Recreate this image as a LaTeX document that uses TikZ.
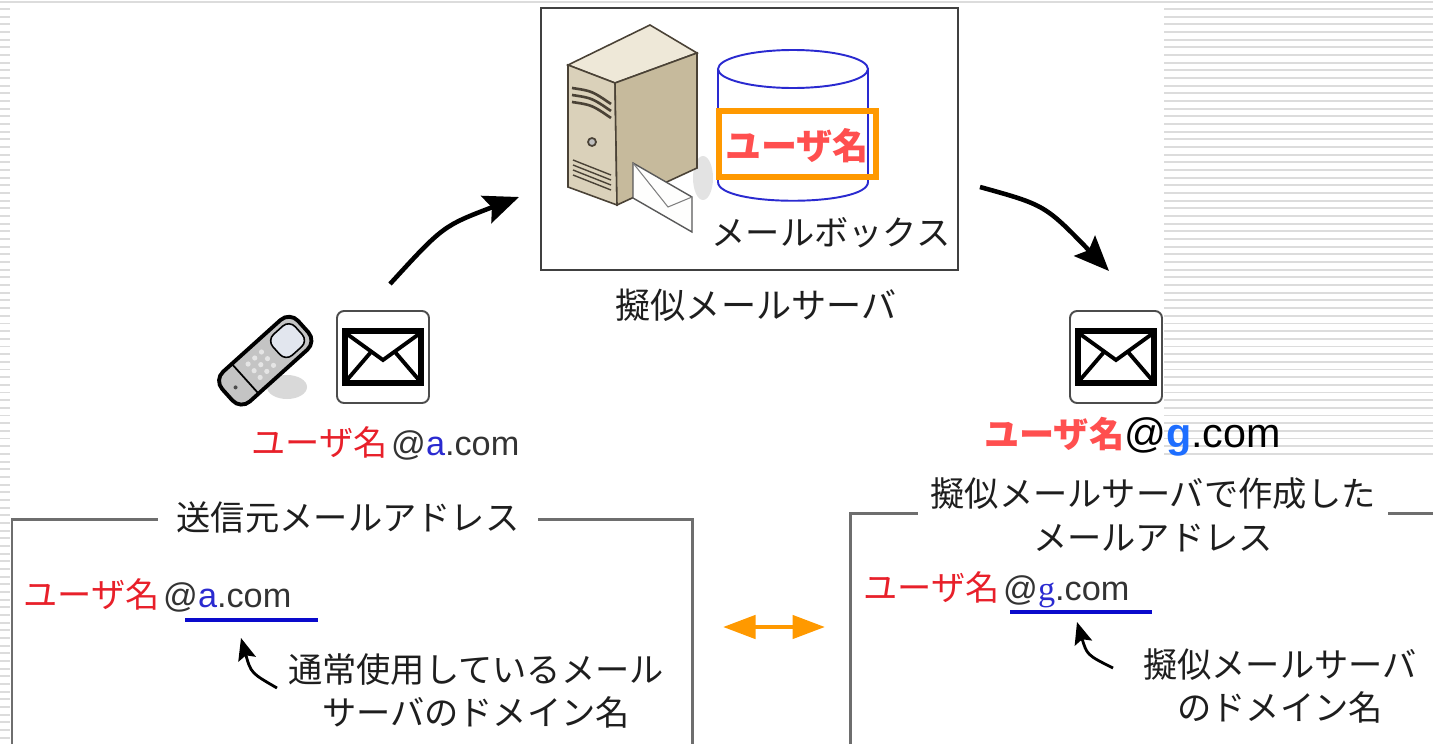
\documentclass[tikz,border=0pt]{standalone}
\usepackage{fontspec}
\setmainfont{Noto Sans CJK JP}
\newfontfamily\latin{Liberation Sans}
\newfontfamily\latinserif{Liberation Serif}
\usetikzlibrary{arrows.meta}

\definecolor{jred}{HTML}{E8202A}
\definecolor{lred}{HTML}{FF4F4F}
\definecolor{dblue}{HTML}{2A2AD0}
\definecolor{gblue}{HTML}{1E6EFF}
\definecolor{ulblue}{HTML}{0A0ACC}
\definecolor{tagorange}{HTML}{FF9900}
\definecolor{boxgray}{HTML}{6E6E6E}
\definecolor{txtblack}{HTML}{1E1E1E}
\definecolor{stripegray}{HTML}{DCDCDC}
\definecolor{srvtop}{HTML}{EEE8D8}
\definecolor{srvfront}{HTML}{DAD1BA}
\definecolor{srvside}{HTML}{C6BA9C}
\definecolor{srvdark}{HTML}{4A4236}
\definecolor{phonegray}{HTML}{C4C4C4}
\definecolor{phonelight}{HTML}{E2E6EE}

\tikzset{
  jtext/.style={font=\fontsize{19.5}{25}\selectfont, text=txtblack, inner sep=0pt, align=center},
  frame/.style={draw=boxgray, line width=1.7pt},
  stripe/.style={draw=stripegray, line width=1.1pt},
  bigarrow/.style={line width=2.6pt, -{Stealth[length=7mm,width=5.8mm,inset=1.2mm]}},
  smallarrow/.style={line width=1.6pt, -{Stealth[length=4.4mm,width=3.6mm,inset=0.8mm]}},
  underl/.style={draw=ulblue, line width=2.2pt},
  drum/.style={draw=dblue, line width=1.1pt},
  % envelope icon, centred on its position
  mailicon/.pic={
    \draw[draw=gray!60!black, line width=1.1pt, fill=white, rounded corners=4pt] (-46,-46) rectangle (46,46);
    \draw[line width=3.2pt, fill=white] (-38,-26) rectangle (38,26);
    \draw[line width=2.2pt] (-36,-23) -- (0,3) -- (36,-23);
    \draw[line width=2.2pt] (-36,23) -- (-12,-5) (36,23) -- (12,-5);
  }
}

\begin{document}
\begin{tikzpicture}[x=0.02cm, y=-0.02cm]
\useasboundingbox (0,0) rectangle (1433,744);

% striped background behind the drawing
\draw[stripe] (0,2) -- (1433,2);
\foreach \i in {0,...,95}
  \draw[stripe] (0,{9+7.67*\i}) -- (10,{9+7.67*\i});
\foreach \i in {0,...,58}
  \draw[stripe] (1164,{9+7.67*\i}) -- (1433,{9+7.67*\i});

%% server box
\draw[draw=black!75, line width=1.2pt] (541,8) rectangle (958,270);

% tower
\fill[gray!22] (703,178) ellipse (10 and 22);
\draw[srvdark, line width=0.9pt, fill=srvtop] (568,65) -- (650,25) -- (697,53) -- (615,83) -- cycle;
\draw[srvdark, line width=0.9pt, fill=srvfront] (568,65) -- (615,83) -- (617,205) -- (568,187) -- cycle;
\draw[srvdark, line width=0.9pt, fill=srvside] (615,83) -- (697,53) -- (697,168) -- (617,205) -- cycle;
\foreach \d in {0,7,14}
  \draw[srvdark, line width=1.5pt] (572,{88+\d}) .. controls (592,{91+\d}) .. (611,{104+\d});
\draw[srvdark, line width=1pt, fill=gray!50] (592,142) circle (4);
\foreach \d in {0,5,10,15}
  \draw[srvdark, line width=0.8pt] (573,{160+\d}) -- (611,{175+\d});
\draw[draw=gray!70!black, line width=0.8pt, fill=white!95!srvtop] (633,163) -- (692,197) -- (692,232) -- (633,198) -- cycle;
\draw[gray, line width=0.6pt] (633,163) -- (668,207) -- (692,197);

% mailbox drum
\draw[drum] (793,69) ellipse (75 and 19);
\draw[drum] (718,69) -- (718,182) .. controls (718,207) and (868,207) .. (868,182) -- (868,69);
\draw[tagorange, line width=3pt] (719,111) rectangle (876,177);
\node[jtext, font=\fontsize{20.5}{25}\selectfont\bfseries, text=lred] (uname) at (797,146) {ユーザ名};
\node[jtext] (mbox) at (831,233) {メールボックス};
\node[jtext, font=\fontsize{20}{25}\selectfont] (srvname) at (756,305) {擬似メールサーバ};

%% sender side
\fill[gray!30] (287,387) ellipse (20 and 12);
\begin{scope}[shift={(266,360)}, rotate=42]
  \draw[line width=2.2pt, fill=phonegray, rounded corners=7pt] (-52,-20) rectangle (50,20);
  \draw[line width=0.9pt, fill=phonelight, rounded corners=5pt] (14,-14) rectangle (44,14);
  \foreach \u in {-16,-7,2}
    \foreach \v in {-9,0,9}
      \fill[white!80!gray] (\u,\v) circle (2.6);
  \draw[line width=1pt] (-28,-20) -- (-28,20);
  \fill[black!70] (-41,0) circle (2);
\end{scope}
\pic (srcicon) at (383,357) {mailicon};
\node[jtext, anchor=west] (srcaddr) at (251,443)
  {\textcolor{jred}{ユーザ名}\hspace{2pt}{\latin\color{black!80}@\textcolor{dblue}{a}.com}};

%% receiver side
\pic (newicon) at (1116,357) {mailicon};
\node[jtext, anchor=west, font=\fontsize{20}{25}\selectfont\bfseries] (newaddr) at (984,437)
  {\textcolor{lred}{ユーザ名}{\latin\mdseries\fontsize{23.5}{28}\selectfont\color{black}@\textcolor{gblue}{\bfseries g}.com}};

% flow arrows
\coordinate (sendout) at (390,284);
\coordinate (srvin) at (519,197);
\coordinate (srvout) at (980,187);
\coordinate (recvin) at (1109,271);
\draw[bigarrow] (sendout) .. controls (443,226) .. (srvin);
\draw[bigarrow] (srvout) .. controls (1045,205) .. (recvin);

%% address boxes
\draw[frame] (12,744) -- (12,519) -- (692,519) -- (692,744);
\node[jtext, fill=white, inner xsep=10.5pt, inner ysep=2pt] (srctitle) at (348,517) {送信元メールアドレス};
\node[jtext, anchor=west] (srcmail) at (23,595)
  {\textcolor{jred}{ユーザ名}\hspace{2pt}{\latin\color{black!80}@\textcolor{dblue}{a}.com}};
\draw[underl] (185,620) -- (318,620);
\coordinate (srctail) at (277,688);
\coordinate (srctip) at (241,638);
\draw[smallarrow] (srctail) .. controls (251,673) .. (srctip);
\node[jtext] (srcnote) at (476,691) {通常使用しているメール\\サーバのドメイン名};

\draw[frame] (850,744) -- (850,513) -- (1433,513);
\node[jtext, fill=white, inner xsep=7pt, inner ysep=2pt] (newtitle) at (1153,515) {擬似メールサーバで作成した\\メールアドレス};
\node[jtext, anchor=west] (newmail) at (863,590)
  {\textcolor{jred}{ユーザ名}\hspace{2pt}{\latin\color{black!80}@{\latinserif\textcolor{dblue}{g}}.com}};
\draw[underl] (1010,612) -- (1152,612);
\coordinate (newtail) at (1113,668);
\coordinate (newtip) at (1077,622);
\draw[smallarrow] (newtail) .. controls (1087,655) .. (newtip);
\node[jtext] (newnote) at (1280,686) {擬似メールサーバ\\のドメイン名};

% the two addresses are exchanged
\coordinate (xleft) at (723,627);
\coordinate (xright) at (825,627);
\draw[tagorange, line width=2.6pt, {Triangle[length=6.5mm,width=4.6mm]}-{Triangle[length=6.5mm,width=4.6mm]}] (xleft) -- (xright);

\end{tikzpicture}
\end{document}
